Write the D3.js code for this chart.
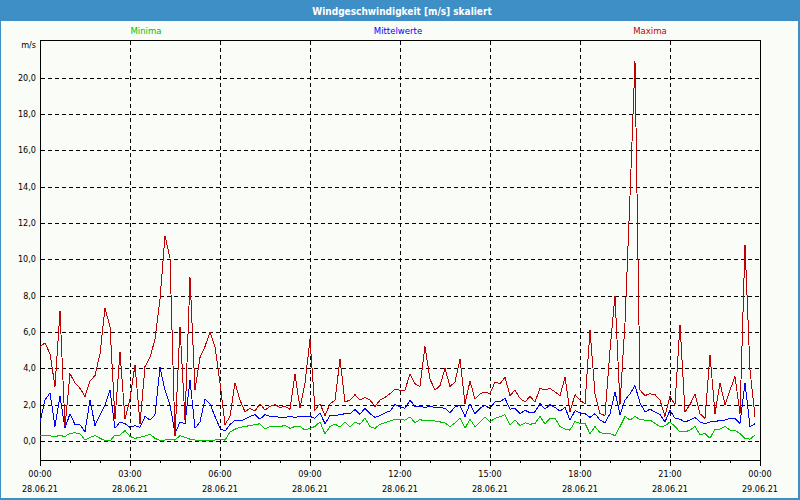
<!DOCTYPE html>
<html>
<head>
<meta charset="utf-8">
<script src="https://cdn.jsdelivr.net/npm/d3@7"></script>
<style>
  body { margin: 0; background: #fafcf8; }
  svg { display: block; }
  text { font-family: "DejaVu Sans Condensed", "DejaVu Sans", sans-serif; font-stretch: condensed; }
</style>
</head>
<body>
<svg id="chart" width="800" height="500"></svg>
<script>
// ---- data (10-minute values, 28.06.21 00:00 .. 23:50) ----
const titleText = "Windgeschwindigkeit [m/s] skaliert";
const seriesNames = ["Minima", "Mittelwerte", "Maxima"];
const startTime = new Date(2021, 5, 28, 0, 0);
const endTime = new Date(2021, 5, 29, 0, 0);
const stepMinutes = 10;

const minima = [
  0.3, 0.28, 0.28, 0.25, 0.3, 0.25, 0.42, 0.45, 0.4, 0.05, 0.2, 0.3, 0.15, 0.02, 0.0, 0.33, 0.33, 0.57, 0.25, 0.15, 0.2, 0.28, 0.37, 0.15, 0.02,
  0.05, 0.1, 0.05, 0.3, 0.2, 0.1, 0.05, 0.05, 0.0, 0.05, 0.05, 0.1, 0.05, 0.5, 0.65, 0.75, 0.8, 0.85, 0.9, 0.95, 0.65, 0.8, 0.8, 0.8,
  0.85, 0.7, 0.8, 0.8, 0.6, 0.7, 0.8, 1.05, 0.4, 0.8, 0.92, 0.78, 1.05, 0.78, 1.05, 0.92, 1.27, 0.78, 0.7, 0.92, 1.0, 1.1, 1.2, 1.18,
  1.15, 1.33, 1.0, 1.18, 1.1, 1.15, 1.1, 1.05, 1.0, 0.78, 1.0, 1.25, 0.7, 1.2, 0.78, 1.05, 1.33, 1.05, 1.25, 1.33, 1.45, 0.87, 1.15, 0.85,
  1.0, 0.92, 0.97, 1.35, 0.94, 1.25, 1.25, 0.8, 0.65, 0.6, 1.07, 0.97, 0.97, 0.4, 0.8, 0.45, 0.42, 0.4, 0.3, 0.8, 1.35, 1.15, 1.35, 1.18,
  1.15, 1.15, 0.97, 0.8, 0.83, 1.05, 0.8, 0.5, 0.5, 0.6, 0.8, 0.33, 0.42, 0.15, 0.65, 0.65, 0.8, 0.6, 0.57, 0.42, 0.15, 0.1, 0.33
];
const mittelwerte = [
  1.05, 2.25, 2.65, 0.8, 2.45, 0.7, 1.5, 0.9, 0.9, 0.5, 2.25, 0.85, 1.45, 2.0, 2.8, 0.7, 1.05, 0.95, 0.75, 0.85, 0.75, 1.35, 1.15, 1.45, 4.05,
  2.8, 2.0, 0.4, 1.05, 0.95, 3.35, 0.7, 1.05, 2.3, 2.05, 1.35, 0.7, 0.55, 0.9, 1.15, 1.1, 1.2, 1.35, 1.45, 1.2, 1.45, 1.35, 1.35, 1.3,
  1.3, 1.35, 1.3, 1.35, 1.33, 1.35, 1.25, 1.55, 0.95, 1.4, 1.4, 1.45, 1.5, 1.5, 1.73, 1.47, 1.8, 1.5, 1.3, 1.4, 1.55, 1.65, 2.0, 1.88,
  1.8, 2.25, 1.9, 1.9, 1.85, 1.9, 1.85, 1.85, 1.8, 1.55, 1.88, 1.95, 1.35, 2.05, 1.5, 1.8, 1.95, 1.8, 2.15, 2.15, 2.35, 1.75, 1.8, 1.5,
  1.7, 1.55, 1.6, 2.07, 1.75, 2.0, 1.85, 1.65, 1.85, 1.15, 1.67, 1.55, 1.5, 1.3, 1.5, 1.15, 1.0, 1.5, 2.7, 1.45, 2.25, 2.6, 3.05, 2.1,
  1.6, 1.75, 1.6, 1.45, 1.05, 1.7, 1.25, 1.2, 1.05, 1.15, 1.3, 1.05, 0.95, 1.05, 1.05, 1.15, 1.15, 1.25, 1.25, 0.97, 3.2, 0.8, 0.95
];
const maxima = [
  5.2, 5.4, 4.8, 3.0, 7.15, 0.8, 3.7, 3.2, 2.9, 2.45, 3.3, 3.6, 4.8, 7.3, 6.3, 1.2, 4.9, 1.2, 2.3, 4.2, 0.95, 4.1, 4.6, 5.6, 7.8,
  11.3, 10.05, 0.25, 6.3, 1.15, 9.0, 2.8, 4.6, 5.2, 6.0, 5.2, 3.2, 0.9, 1.35, 3.2, 2.25, 1.6, 1.8, 1.65, 2.05, 1.7, 1.9, 2.0, 1.85,
  1.9, 1.75, 3.7, 1.8, 3.2, 5.6, 1.7, 2.05, 1.4, 2.05, 2.25, 4.5, 2.15, 2.25, 2.55, 2.25, 2.4, 2.25, 1.9, 2.25, 2.4, 2.6, 2.85, 2.8,
  2.8, 3.7, 3.15, 3.0, 5.2, 3.4, 2.8, 3.05, 4.0, 3.0, 3.25, 4.5, 2.05, 3.3, 2.3, 2.6, 2.7, 2.6, 3.25, 3.15, 3.5, 2.5, 2.8, 2.35,
  2.15, 2.45, 2.15, 2.9, 2.8, 2.9, 2.7, 2.5, 3.5, 1.6, 2.55, 2.25, 2.05, 6.1, 2.6, 1.5, 1.4, 5.0, 8.0, 2.0, 6.5, 13.5, 20.9, 2.8,
  2.5, 2.6, 2.55, 2.25, 1.35, 2.45, 2.0, 6.4, 1.6, 2.0, 2.6, 1.5, 1.25, 4.75, 1.5, 3.2, 2.0, 2.8, 3.55, 1.5, 10.8, 3.9, 1.35
];
const yTicks = [0, 2, 4, 6, 8, 10, 12, 14, 16, 18, 20];
const timeLabels = ["00:00", "03:00", "06:00", "09:00", "12:00", "15:00", "18:00", "21:00", "00:00"];
const dateLabels = ["28.06.21", "28.06.21", "28.06.21", "28.06.21", "28.06.21", "28.06.21", "28.06.21", "28.06.21", "29.06.21"];
const unitLabel = "m/s";

// ---- styles ----
const frameBlue = "#3d8fc6";
const bg = "#fafcf8";
const colors = { Minima: "#00c000", Mittelwerte: "#0000ff", Maxima: "#c00000" };

const svg = d3.select("#chart");
const W = 800, H = 500;
const L = 40, R = 760, T = 40, B = 460;

// frame + title bar
svg.append("rect").attr("x", 0).attr("y", 0).attr("width", W).attr("height", H).attr("fill", frameBlue);
svg.append("rect").attr("x", 1).attr("y", 21).attr("width", W - 3).attr("height", H - 23).attr("fill", bg);
svg.append("text").attr("x", 402).attr("y", 11).attr("dy", "0.35em")
  .attr("text-anchor", "middle").attr("fill", "#ffffff")
  .attr("font-size", "10px").attr("font-weight", "bold").text(titleText);

// scales
const x = d3.scaleTime().domain([startTime, endTime]).range([L, R]);
const y = d3.scaleLinear().domain([0, 20]).range([441, 77.6]);
const times = maxima.map((_, i) => new Date(startTime.getTime() + i * stepMinutes * 60000));

// legend
const legendX = [146, 398, 650];
seriesNames.forEach((n, i) => {
  svg.append("text").attr("x", legendX[i]).attr("y", 31).attr("dy", "0.35em")
    .attr("text-anchor", "middle").attr("fill", colors[n]).attr("font-size", "9.5px").text(n);
});

// grid
const grid = svg.append("g").attr("stroke", "#000").attr("stroke-width", 1).attr("stroke-dasharray", "4,3").attr("shape-rendering", "crispEdges");
yTicks.forEach(v => {
  const yy = Math.round(y(v)) + 0.5;
  grid.append("line").attr("x1", L + 1).attr("x2", R).attr("y1", yy).attr("y2", yy);
});
const vTicks = d3.timeHour.every(3).range(startTime, endTime).slice(1);
vTicks.forEach(t => {
  const xx = Math.round(x(t)) + 0.5;
  grid.append("line").attr("x1", xx).attr("x2", xx).attr("y1", T + 1).attr("y2", B);
});

// border
svg.append("rect").attr("x", L + 0.5).attr("y", T + 0.5).attr("width", R - L).attr("height", B - T)
  .attr("fill", "none").attr("stroke", "#000").attr("shape-rendering", "crispEdges");

// x ticks
const hourTicks = d3.timeHour.every(1).range(startTime, d3.timeMinute.offset(endTime, 1));
hourTicks.forEach(t => {
  const xx = Math.round(x(t)) + 0.5;
  const major = t.getHours() % 3 === 0;
  svg.append("line").attr("x1", xx).attr("x2", xx).attr("y1", B).attr("y2", B + (major ? 6 : 3))
    .attr("stroke", "#000").attr("shape-rendering", "crispEdges");
});
const majorTicks = d3.timeHour.every(3).range(startTime, d3.timeMinute.offset(endTime, 1));
majorTicks.forEach((t, i) => {
  svg.append("text").attr("x", x(t)).attr("y", 474).attr("dy", "0.35em").attr("text-anchor", "middle")
    .attr("font-size", "9px").attr("fill", "#000").text(timeLabels[i]);
  svg.append("text").attr("x", x(t)).attr("y", 489).attr("dy", "0.35em").attr("text-anchor", "middle")
    .attr("font-size", "9px").attr("fill", "#000").text(dateLabels[i]);
});

// y labels
const fmt = v => d3.format(".1f")(v).replace(".", ",");
yTicks.forEach(v => {
  svg.append("text").attr("x", 36).attr("y", y(v)).attr("dy", "0.35em").attr("text-anchor", "end")
    .attr("font-size", "9px").attr("fill", "#000").text(fmt(v));
});
svg.append("text").attr("x", 36).attr("y", 45).attr("dy", "0.35em").attr("text-anchor", "end")
  .attr("font-size", "9px").attr("fill", "#000").text(unitLabel);

// lines
const line = d3.line().x((d, i) => x(times[i])).y(d => y(d));
const seriesData = { Minima: minima, Mittelwerte: mittelwerte, Maxima: maxima };
seriesNames.forEach(n => {
  svg.append("path").datum(seriesData[n]).attr("d", line)
    .attr("fill", "none").attr("stroke", colors[n]).attr("stroke-width", 1)
    .attr("shape-rendering", "crispEdges").attr("stroke-linejoin", "miter");
});
</script>
</body>
</html>
